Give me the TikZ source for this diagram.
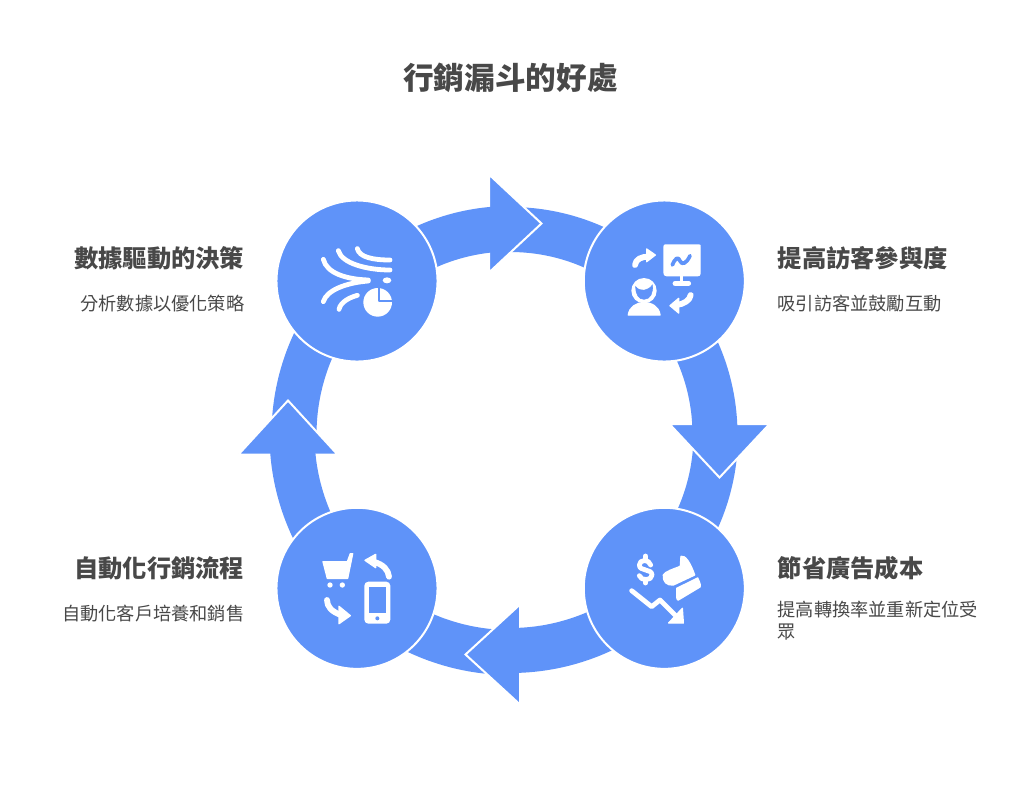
\documentclass[tikz,border=0pt]{standalone}
\usepackage{fontspec}
\newfontfamily\cjk{Noto Sans CJK TC}
\definecolor{ringblue}{HTML}{5F93F9}
\definecolor{inktext}{HTML}{484848}
\newcommand\ringband[4]{plot[domain=#1:#2,samples=40] ({510.5+#3*cos(\x)},{434.5+#3*sin(\x)}) -- plot[domain=#2:#1,samples=40] ({510.5+#4*cos(\x)},{434.5+#4*sin(\x)}) -- cycle}
\tikzset{
  band/.style={fill=ringblue},
  headtip/.style={fill=ringblue,draw=white,line width=1.5pt,line join=miter},
  hub/.style={circle,fill=ringblue,draw=white,line width=1.5pt,minimum size=120.8pt,inner sep=0pt,outer sep=0pt},
  title/.style={font=\cjk\bfseries\fontsize{23pt}{27pt}\selectfont,text=inktext,inner sep=0pt},
  heading/.style={font=\cjk\bfseries\fontsize{18.2pt}{22pt}\selectfont,text=inktext,inner sep=0pt},
  sub/.style={font=\cjk\fontsize{13.65pt}{16.2pt}\selectfont,text=inktext,inner sep=0pt},
  iconfill/.style={fill=white,draw=white,line width=1pt,line join=round},
  iconline/.style={draw=white,line width=3.6pt,line cap=round,line join=round},
  iconarrow/.style={draw=white,line width=4.4pt,line cap=round,line join=round},
  iconthin/.style={draw=white,line width=2.6pt,line cap=round,line join=round},
  iconcut/.style={draw=ringblue,line width=1.3pt,line cap=round,line join=round}
}
\begin{document}
\begin{tikzpicture}[x=.75pt,y=-.75pt]
\useasboundingbox (0,0) rectangle (1020,804);
\fill[white] (0,0) rectangle (1020,804);

% top arrow
\fill[band] \ringband{-94.5}{-45}{227.5}{182.5};
\path[headtip] (489,174.5) -- (541.5,223.5) -- (489,272.5) -- cycle;
\fill[band] \ringband{-135}{-94}{228.5}{183};
% right arrow
\fill[band] \ringband{-2}{45}{227.5}{183};
\path[headtip] (669.5,424) -- (719.5,477.5) -- (769.5,424) -- cycle;
\fill[band] \ringband{-45}{-1.5}{227}{182};
% bottom arrow
\fill[band] \ringband{88.5}{135}{240.5}{195.5};
\path[headtip] (520,604.5) -- (465.5,654.5) -- (520,704.5) -- cycle;
\fill[band] \ringband{45}{89}{238.5}{193.5};
% left arrow
\fill[band] \ringband{176}{225}{239}{194};
\path[headtip] (238.5,454.5) -- (288,400.5) -- (337.5,454.5) -- cycle;
\fill[band] \ringband{135}{176.5}{241}{196};

\node[hub] (hubTL) at (357,281) {};
\node[hub] (hubTR) at (664.3,281) {};
\node[hub] (hubBR) at (664.3,588.3) {};
\node[hub] (hubBL) at (357,588.3) {};

% icon: data streams and pie
\begin{scope}[shift={(270,170)},scale=1/3]
\draw[iconline] (262,236) .. controls (268,262) and (310,270) .. (360,270);
\draw[iconline] (205,242) .. controls (215,280) and (290,300) .. (360,300);
\draw[iconline] (160,268) .. controls (170,310) and (230,328) .. (295,330);
\draw[iconline] (160,395) .. controls (170,360) and (230,338) .. (295,333);
\draw[iconline] (207,418) .. controls (212,395) and (240,382) .. (262,376);
\fill[white] (351,331) ellipse (13 and 9);
\fill[white] (323,397) circle (43);
\draw[iconcut] (326,355) -- (326,392) -- (368,392);
\end{scope}

% icon: person, monitor, arrows
\begin{scope}[shift={(620,235)},scale=1/3]
\path[iconfill] (136,30) -- (236,30) .. controls (240,30) and (240,30) .. (240,36) -- (240,112) .. controls (240,122) and (236,122) .. (232,122) -- (140,122) .. controls (134,122) and (132,118) .. (132,112) -- (132,36) .. controls (132,32) and (134,30) .. (136,30) -- cycle;
\draw[iconthin] (185,122) -- (185,145);
\draw[iconline] (165,145) -- (206,145);
\draw[draw=ringblue,line width=2.8pt,line cap=round,line join=round] (157,90) .. controls (165,70) and (175,62) .. (180,78) .. controls (186,92) and (200,85) .. (210,62);
\draw[iconarrow] (45,90) .. controls (47,72) and (65,65) .. (85,65);
\path[iconfill] (80,42) -- (106,60) -- (80,80) -- cycle;
\fill[white] (72,167) circle (38);
\path[draw=ringblue,fill=ringblue] (47,155) .. controls (60,172) and (85,168) .. (97,150) .. controls (100,172) and (92,193) .. (72,193) .. controls (56,193) and (47,178) .. (47,155) -- cycle;
\path[iconfill] (25,240) .. controls (28,215) and (50,203) .. (72,203) .. controls (95,203) and (117,215) .. (120,240) -- cycle;
\draw[iconarrow] (212,180) .. controls (210,196) and (192,207) .. (170,210);
\path[iconfill] (176,190) -- (150,212) -- (176,234) -- cycle;
\end{scope}

% icon: dollar, price tag, falling line
\begin{scope}[shift={(620,545)},scale=1/3]
\draw[iconline] (92,60) .. controls (88,42) and (58,42) .. (58,60) .. controls (58,80) and (96,70) .. (96,90) .. controls (96,108) and (62,108) .. (58,92);
\draw[iconline] (76,33) -- (76,42);
\draw[iconline] (76,105) -- (76,114);
\path[iconfill] (130,90) .. controls (135,80) and (160,72) .. (181,64) -- (183,34) .. controls (195,30) and (210,50) .. (224,90) -- (160,120) .. controls (140,122) and (128,110) .. (130,90) -- cycle;
\path[iconfill] (170,130) -- (233,99) .. controls (238,110) and (243,120) .. (240,126) -- (175,165) .. controls (170,165) and (170,160) .. (170,130) -- cycle;
\draw[iconline] (35,137) -- (95,185) -- (120,165) -- (170,215);
\path[iconfill] (187,190) -- (190,234) -- (146,234) -- cycle;
\end{scope}

% icon: cart, phone, arrows
\begin{scope}[shift={(315,545)},scale=1/3]
\path[iconfill] (24,50) -- (97,50) -- (106,26) -- (113,26) -- (98,100) -- (37,100) -- cycle;
\fill[white] (45,120) circle (8);
\fill[white] (82,120) circle (8);
\draw[iconarrow] (222,95) .. controls (220,75) and (205,58) .. (175,50);
\path[iconfill] (182,28) -- (150,46) -- (182,68) -- cycle;
\draw[iconarrow] (36,165) .. controls (36,185) and (50,200) .. (78,210);
\path[iconfill] (72,184) -- (106,212) -- (72,236) -- cycle;
\fill[white,rounded corners=3pt] (148,110) rectangle (226,236);
\fill[ringblue] (163,126) rectangle (212,205);
\fill[ringblue] (187,220) circle (6);
\end{scope}

\node[title] (ttl) at (510.5,78) {行銷漏斗的好處};

\node[heading,anchor=east] (headTL) at (244.5,258) {數據驅動的決策};
\node[sub,anchor=east] (subTL) at (244.5,304) {分析數據以優化策略};
\node[heading,anchor=west] (headTR) at (777.5,258) {提高訪客參與度};
\node[sub,anchor=west] (subTR) at (777.5,304) {吸引訪客並鼓勵互動};
\node[heading,anchor=east] (headBL) at (244.5,568) {自動化行銷流程};
\node[sub,anchor=east] (subBL) at (244.5,614) {自動化客戶培養和銷售};
\node[heading,anchor=west] (headBR) at (777.5,568) {節省廣告成本};
\node[sub,anchor=west] (subBRa) at (777.5,610) {提高轉換率並重新定位受};
\node[sub,anchor=west] (subBRb) at (777.5,632) {眾};
\end{tikzpicture}
\end{document}
